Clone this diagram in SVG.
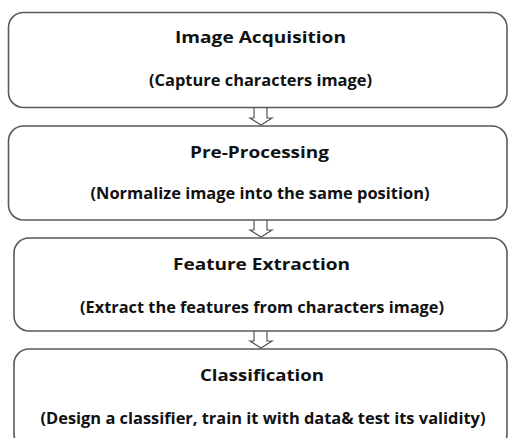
<svg xmlns="http://www.w3.org/2000/svg" width="509" height="438" viewBox="0 0 509 438">
<style>
.box{fill:#ffffff;stroke:#5a5a5a;stroke-width:1.6}
.arr{fill:#ffffff;stroke:#555555;stroke-width:1.2;stroke-linejoin:miter}
.t{font-family:"Open Sans",Lato,"Liberation Sans",sans-serif;font-weight:bold;font-size:15.5px;fill:#111111;text-anchor:middle}
</style>
<rect width="509" height="438" fill="#ffffff"/>
<g id="connectors">
<path class="arr" d="M254,107 V118 H250 L261,125 L272,118 H267 V107"/>
<path class="arr" d="M254,220 V230 H250 L261,237 L272,230 H267 V220"/>
<path class="arr" d="M254,331 V341 H250 L261,348 L272,341 H267 V331"/>
</g>
<g id="node1">
<rect class="box" x="8.5" y="12.5" width="498.5" height="95" rx="15"/>
<text class="t" x="260.5" y="43.3" textLength="171" lengthAdjust="spacingAndGlyphs">Image Acquisition</text>
<text class="t" x="260.5" y="86" textLength="223" lengthAdjust="spacingAndGlyphs">(Capture characters image)</text>
</g>
<g id="node2">
<rect class="box" x="8.5" y="126" width="498.5" height="94" rx="15"/>
<text class="t" x="259.5" y="158" textLength="139" lengthAdjust="spacingAndGlyphs">Pre-Processing</text>
<text class="t" x="260" y="199" textLength="339" lengthAdjust="spacingAndGlyphs">(Normalize image into the same position)</text>
</g>
<g id="node3">
<rect class="box" x="14" y="238" width="493" height="93" rx="15"/>
<text class="t" x="261.5" y="270" textLength="177" lengthAdjust="spacingAndGlyphs">Feature Extraction</text>
<text class="t" x="262" y="313" textLength="364" lengthAdjust="spacingAndGlyphs">(Extract the features from characters image)</text>
</g>
<g id="node4">
<rect class="box" x="14" y="349" width="493" height="100" rx="15"/>
<text class="t" x="262" y="381" textLength="124" lengthAdjust="spacingAndGlyphs">Classification</text>
<text class="t" x="263" y="424" textLength="445" lengthAdjust="spacingAndGlyphs">(Design a classifier, train it with data&amp; test its validity)</text>
</g>
</svg>
